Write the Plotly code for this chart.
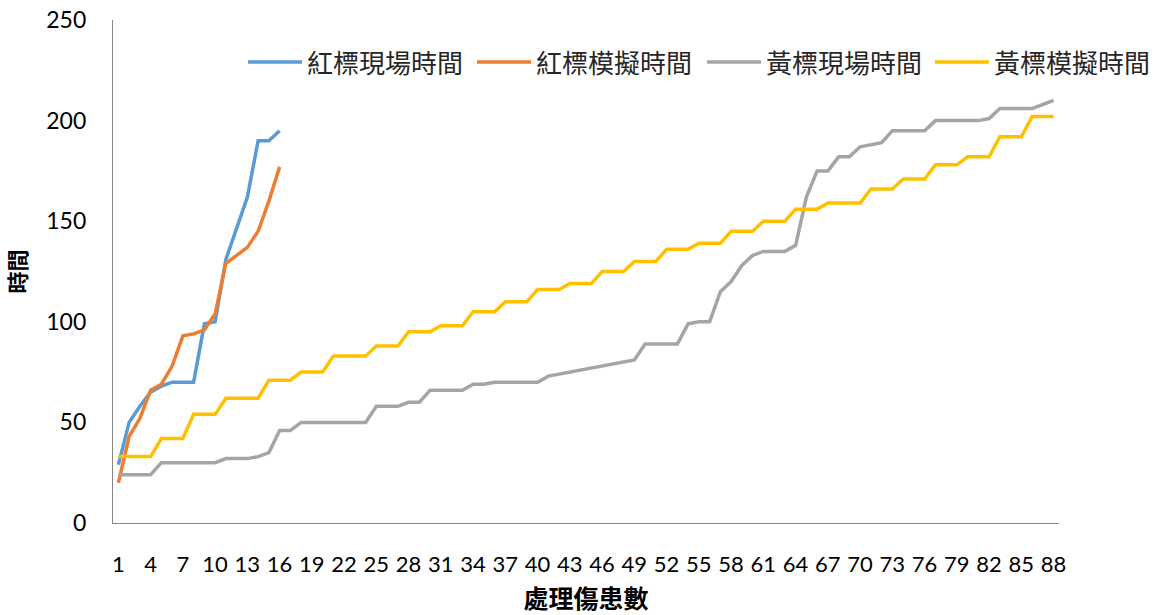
import plotly.graph_objects as go

patients = list(range(1, 89))
tick_vals = [1, 4, 7, 10, 13, 16, 19, 22, 25, 28, 31, 34, 37, 40, 43, 46, 49, 52, 55, 58, 61, 64, 67, 70, 73, 76, 79, 82, 85, 88]
tick_text = ["1", "4", "7", "10", "13", "16", "19", "22", "25", "28", "31", "34", "37", "40", "43", "46", "49", "52", "55", "58", "61", "64", "67", "70", "73", "76", "79", "82", "85", "88"]

red_field = [29, 50, 58, 65, 68, 70, 70, 70, 99, 100, 131, 146, 162, 190, 190, 195]
red_sim = [20, 43, 52, 66, 69, 78, 93, 94, 96, 104, 129, 133, 137, 145, 160, 177]

yellow_field = [24, 24, 24, 24, 30, 30, 30, 30, 30, 30, 32, 32, 32, 33, 35, 46, 46,
                50, 50, 50, 50, 50, 50, 50, 58, 58, 58, 60, 60, 66, 66, 66, 66, 69, 69,
                70, 70, 70, 70, 70, 73, 74, 75, 76, 77, 78, 79, 80, 81, 89, 89, 89, 89,
                99, 100, 100, 115, 120, 128, 133, 135, 135, 135, 138, 162, 175, 175, 182, 182,
                187, 188, 189, 195, 195, 195, 195, 200, 200, 200, 200, 200, 201, 206, 206, 206, 206, 208, 210]
yellow_sim = [33, 33, 33, 33, 42, 42, 42, 54, 54, 54, 62, 62, 62, 62, 71, 71, 71,
              75, 75, 75, 83, 83, 83, 83, 88, 88, 88, 95, 95, 95, 98, 98, 98, 105, 105, 105,
              110, 110, 110, 116, 116, 116, 119, 119, 119, 125, 125, 125, 130, 130, 130,
              136, 136, 136, 139, 139, 139, 145, 145, 145, 150, 150, 150, 156, 156, 156,
              159, 159, 159, 159, 166, 166, 166, 171, 171, 171, 178, 178, 178, 182, 182, 182,
              192, 192, 192, 202, 202, 202]

series = [
    ("紅標現場時間", red_field, "#5B9BD5"),
    ("紅標模擬時間", red_sim, "#ED7D31"),
    ("黃標現場時間", yellow_field, "#A5A5A5"),
    ("黃標模擬時間", yellow_sim, "#FFC000"),
]

# legend layout (pixel positions of each entry's line start)
W, H = 1163, 615
ML, MR, MT, MB = 113, 104, 20, 92
PW, PH = W - ML - MR, H - MT - MB
legend_starts_px = [248, 477, 707, 935]
legend_line_px = 54
legend_y_px = 62


def px_to_paper_x(px):
    return (px - ML) / PW


def px_to_paper_y(py):
    return (H - MB - py) / PH


cjk = "Noto Sans CJK TC, Noto Sans CJK SC, sans-serif"

fig = go.Figure()
for (name, vals, color), x0 in zip(series, legend_starts_px):
    fig.add_trace(go.Scatter(
        x=patients[:len(vals)], y=vals, mode="lines", name=name,
        line=dict(color=color, width=3.5), showlegend=False,
    ))
    ly = px_to_paper_y(legend_y_px)
    fig.add_shape(type="line", xref="paper", yref="paper",
                  x0=px_to_paper_x(x0), x1=px_to_paper_x(x0 + legend_line_px),
                  y0=ly, y1=ly, line=dict(color=color, width=3.5))
    fig.add_annotation(xref="paper", yref="paper", x=px_to_paper_x(x0 + legend_line_px + 3),
                       y=ly, xanchor="left", yanchor="middle", showarrow=False,
                       text=name, font=dict(family=cjk, size=26, color="#262626"))

fig.update_layout(
    width=W, height=H,
    margin=dict(l=ML, r=MR, t=MT, b=MB),
    paper_bgcolor="white", plot_bgcolor="white",
    font=dict(family=cjk, color="#000000"),
    showlegend=False,
    xaxis=dict(
        range=[0.5, 88.5], tickmode="array", tickvals=tick_vals, ticktext=tick_text,
        showgrid=False, zeroline=False, showline=True, linecolor="#868686", linewidth=1.3,
        ticks="", tickfont=dict(family="Lato, Open Sans, sans-serif", size=22, color="#000000"),
        ticklabelstandoff=21, automargin=False,
        title=dict(text="<b>處理傷患數</b>", font=dict(family=cjk, size=25, color="#000000"), standoff=23),
    ),
    yaxis=dict(
        range=[0, 250], tickmode="array", tickvals=[0, 50, 100, 150, 200, 250],
        showgrid=False, zeroline=False, showline=True, linecolor="#868686", linewidth=1.3,
        ticks="", tickfont=dict(family="Lato, Open Sans, sans-serif", size=23, color="#000000"),
        ticklabelstandoff=21, automargin=False,
        title=dict(text="<b>時間</b>", font=dict(family=cjk, size=22, color="#000000"), standoff=19),
    ),
)

fig.write_html("out.html")
